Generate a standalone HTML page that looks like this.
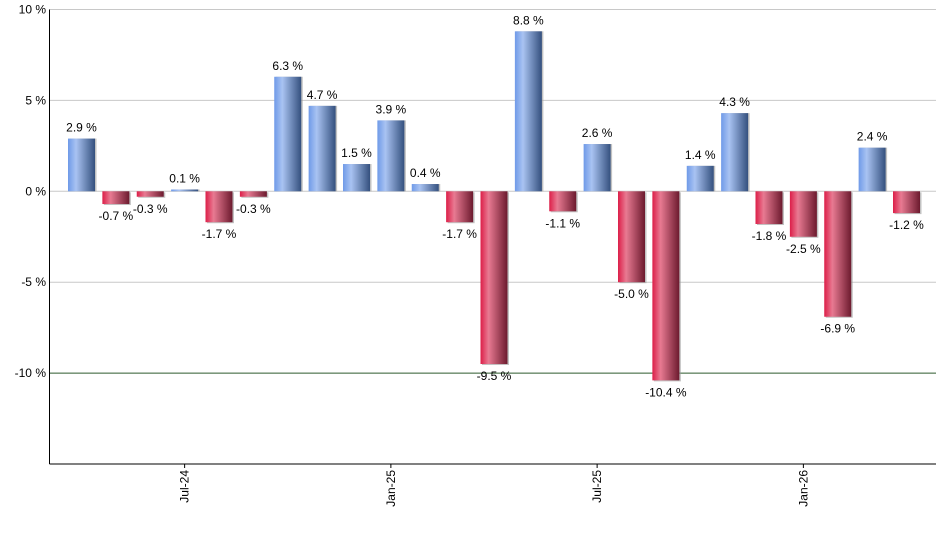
<!DOCTYPE html>
<html><head><meta charset="utf-8"><style>
body{margin:0;background:#fff;font-family:"Liberation Sans",Arial,sans-serif;}
svg text{font-family:"Liberation Sans",Arial,sans-serif;font-size:12px;fill:#000;}
</style></head><body>
<svg id="chart" width="940" height="550">
<defs>
<linearGradient id="gb" x1="0" x2="1" y1="0" y2="0"><stop offset="0" stop-color="#6f9ae8"/><stop offset="0.3" stop-color="#a9c3f2"/><stop offset="1" stop-color="#34507e"/></linearGradient>
<linearGradient id="gr" x1="0" x2="1" y1="0" y2="0"><stop offset="0" stop-color="#dc1e48"/><stop offset="0.3" stop-color="#e87a92"/><stop offset="1" stop-color="#6c1a2e"/></linearGradient>
</defs>
<g id="grid"></g><g id="bars"></g><g id="axes"></g>
</svg>
<script>
const values=[2.9,-0.7,-0.3,0.1,-1.7,-0.3,6.3,4.7,1.5,3.9,0.4,-1.7,-9.5,8.8,-1.1,2.6,-5.0,-10.4,1.4,4.3,-1.8,-2.5,-6.9,2.4,-1.2];
const yTicks=[10,5,0,-5,-10];
const xTickLabels=["Jul-24","Jan-25","Jul-25","Jan-26"];
const xTickIndex=[3,9,15,21];
const NS="http://www.w3.org/2000/svg";
const L=49.5,R=936,T=9.5,B=464;
const yMax=10,yMin=-15;
function y(v){return T+(yMax-v)/(yMax-yMin)*(B-T);}
const step=34.375,x0=81.5,bw=27;
function x(i){return x0+i*step;}
function mk(tag,attrs,parent){const e=document.createElementNS(NS,tag);for(const k in attrs)e.setAttribute(k,attrs[k]);parent.appendChild(e);return e;}
const grid=document.getElementById('grid'),bars=document.getElementById('bars'),axes=document.getElementById('axes');
yTicks.forEach(t=>{
  const l=mk('line',{x1:L,x2:R,y1:y(t),y2:y(t),stroke:t===-10?'#2e5a2e':'#c8c8c8','stroke-width':1},grid);
  
  
  const tx=mk('text',{x:46,y:y(t)+4,'text-anchor':'end'},axes);
  tx.textContent=t+' %';
  
  
});
values.forEach((v,i)=>{
  const y0=y(0),yv=y(v);
  const top=Math.min(y0,yv),h=Math.max(Math.abs(yv-y0),1);
  mk('rect',{x:x(i)-bw/2+1.5,y:top+(v<0?1:0),width:bw,height:h,fill:'#999','opacity':0.6},bars);
  const r=mk('rect',{x:x(i)-bw/2,y:top,width:bw,height:h,fill:v>=0?'url(#gb)':'url(#gr)'},bars);
  
  
  const t=mk('text',{x:x(i),y:v>=0?top-7:top+h+16,'text-anchor':'middle'},bars);
  t.textContent=v.toFixed(1)+' %';
  
  
});
const ya=mk('line',{x1:L,x2:L,y1:T,y2:B,stroke:'#000','stroke-width':1},axes);


const xa=mk('line',{x1:L,x2:R,y1:B,y2:B,stroke:'#000','stroke-width':1},axes);


xTickLabels.forEach((lab,k)=>{
  const px=x(xTickIndex[k]);
  mk('line',{x1:px,x2:px,y1:B,y2:B+4,stroke:'#000'},axes);
  const t=mk('text',{x:0,y:0,'text-anchor':'end',transform:`translate(${px+4},${B+6}) rotate(-90)`},axes);
  t.textContent=lab;
  
  
});
</script>
</body></html>
